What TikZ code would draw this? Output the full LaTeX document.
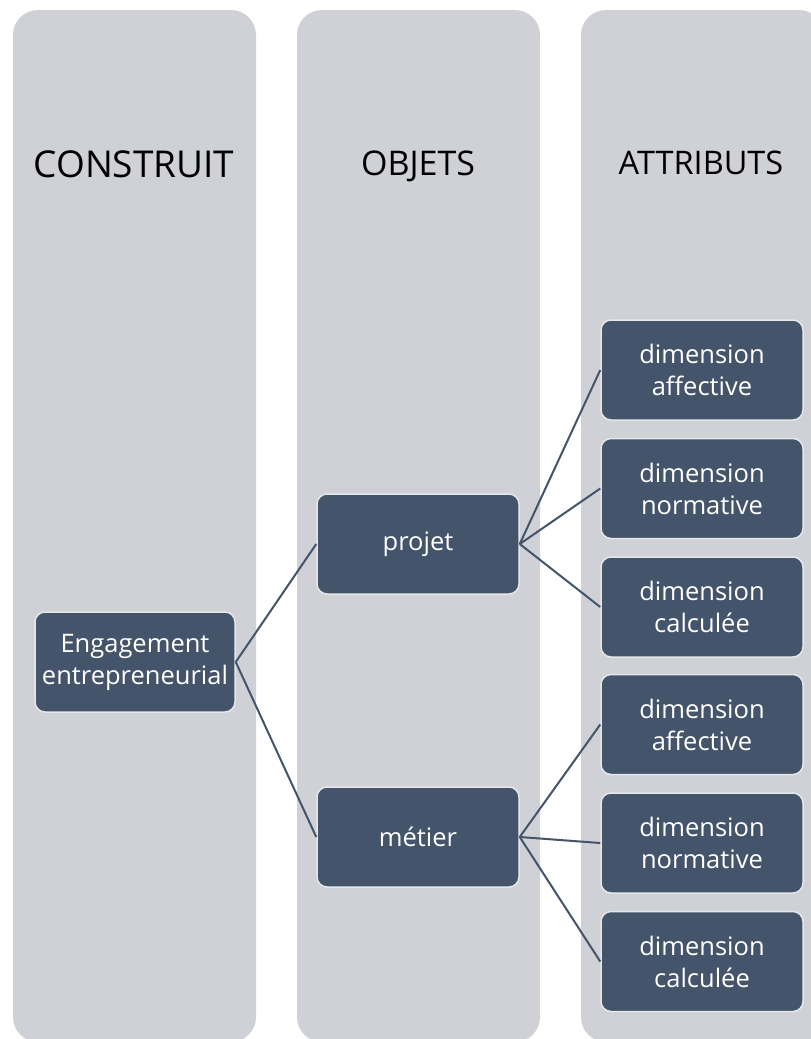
\documentclass[tikz,border=0pt]{standalone}
\usepackage{fontspec}
\setmainfont{Open Sans}
\usepackage{xcolor}
\usetikzlibrary{positioning}
\definecolor{panelgray}{HTML}{D0D1D6}
\definecolor{boxslate}{HTML}{44546A}
\definecolor{boxrim}{HTML}{E6E7EA}

\tikzset{
  panel/.style={fill=panelgray, rounded corners=25pt},
  header/.style={text=black, inner sep=0pt, anchor=base},
  itembox/.style={draw=boxrim, line width=1.5pt, fill=boxslate, rounded corners=10pt,
    text=white, align=center, font=\fontsize{25.5}{32}\selectfont,
    minimum width=202pt, minimum height=100pt, inner sep=1pt},
  link/.style={draw=boxslate, line width=2pt}
}

\begin{document}
\begin{tikzpicture}[x=1pt, y=-1pt]

\clip (0,0) rectangle (811,1039);
\fill[white] (0,0) rectangle (811,1039);

% Column panels
\fill[panel] (13,10) rectangle (256,1042);
\fill[panel] (297,10) rectangle (540,1042);
\fill[panel] (581,10) rectangle (824,1042);

% Column headers
\node[header, font=\fontsize{37}{42}\selectfont] (hConstruit) at (134,177) {CONSTRUIT};
\node[header, font=\fontsize{34}{40}\selectfont] (hObjets) at (418,175) {OBJETS};
\node[header, font=\fontsize{32.5}{38}\selectfont] (hAttributs) at (701,174) {ATTRIBUTS};

% Construct
\node[itembox, minimum width=200pt] (engagement) at (135,662) {Engagement\\entrepreneurial};

% Objects
\node[itembox] (projet) at (418,544) {projet};
\node[itembox] (metier) at (418,837) {métier};

% Attributes
\node[itembox] (affP) at (702,370) {dimension\\affective};
\node[itembox, below=17pt of affP] (normP) {dimension\\normative};
\node[itembox, below=17pt of normP] (calcP) {dimension\\calculée};
\node[itembox, below=16pt of calcP] (affM) {dimension\\affective};
\node[itembox, below=17pt of affM] (normM) {dimension\\normative};
\node[itembox, below=17pt of normM] (calcM) {dimension\\calculée};

% Connectors
\draw[link] (engagement.east) -- (projet.west);
\draw[link] (engagement.east) -- (metier.west);
\foreach \child in {affP, normP, calcP}
  \draw[link] (projet.east) -- (\child.west);
\foreach \child in {affM, normM, calcM}
  \draw[link] (metier.east) -- (\child.west);

\end{tikzpicture}
\end{document}
